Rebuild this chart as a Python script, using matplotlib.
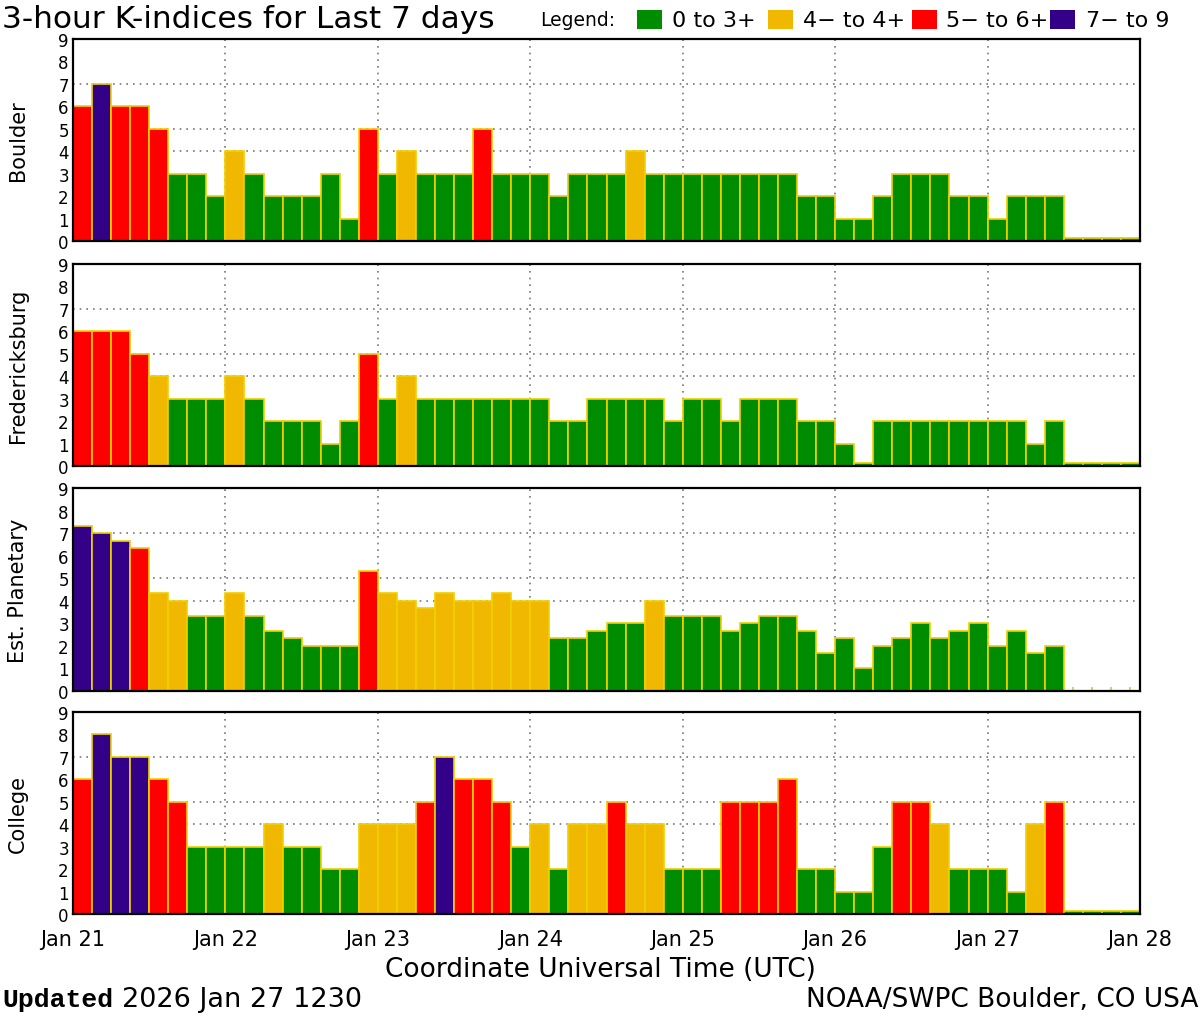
import matplotlib
matplotlib.use("Agg")
import matplotlib.pyplot as plt
from matplotlib.patches import Rectangle

days = ["Jan 21", "Jan 22", "Jan 23", "Jan 24", "Jan 25", "Jan 26", "Jan 27", "Jan 28"]
stations = ["Boulder", "Fredericksburg", "Est. Planetary", "College"]

boulder = [6, 7, 6, 6, 5, 3, 3, 2,
           4, 3, 2, 2, 2, 3, 1, 5,
           3, 4, 3, 3, 3, 5, 3, 3,
           3, 2, 3, 3, 3, 4, 3, 3,
           3, 3, 3, 3, 3, 3, 2, 2,
           1, 1, 2, 3, 3, 3, 2, 2,
           1, 2, 2, 2, 0, 0, 0, 0]
fredericksburg = [6, 6, 6, 5, 4, 3, 3, 3,
                  4, 3, 2, 2, 2, 1, 2, 5,
                  3, 4, 3, 3, 3, 3, 3, 3,
                  3, 2, 2, 3, 3, 3, 3, 2,
                  3, 3, 2, 3, 3, 3, 2, 2,
                  1, 0, 2, 2, 2, 2, 2, 2,
                  2, 2, 1, 2, 0, 0, 0, 0]
planetary = [7.33, 7, 6.67, 6.33, 4.33, 4, 3.33, 3.33,
             4.33, 3.33, 2.67, 2.33, 2, 2, 2, 5.33,
             4.33, 4, 3.67, 4.33, 4, 4, 4.33, 4,
             4, 2.33, 2.33, 2.67, 3, 3, 4, 3.33,
             3.33, 3.33, 2.67, 3, 3.33, 3.33, 2.67, 1.67,
             2.33, 1, 2, 2.33, 3, 2.33, 2.67, 3,
             2, 2.67, 1.67, 2, None, None, None, None]
college = [6, 8, 7, 7, 6, 5, 3, 3,
           3, 3, 4, 3, 3, 2, 2, 4,
           4, 4, 5, 7, 6, 6, 5, 3,
           4, 2, 4, 4, 5, 4, 4, 2,
           2, 2, 5, 5, 5, 6, 2, 2,
           1, 1, 3, 5, 5, 4, 2, 2,
           2, 1, 4, 5, 0, 0, 0, 0]
series = [boulder, fredericksburg, planetary, college]

legend_labels = ["0 to 3+", "4\u2212 to 4+", "5\u2212 to 6+", "7\u2212 to 9"]
GREEN, YELLOW, RED, PURPLE = "#008c00", "#f0b800", "#ff0000", "#330088"
legend_colors = [GREEN, YELLOW, RED, PURPLE]
EDGE = "#f0d000"


def kcolor(v):
    if v < 3.5:
        return GREEN
    if v < 4.5:
        return YELLOW
    if v < 6.5:
        return RED
    return PURPLE


W, H = 1200, 1020
fig = plt.figure(figsize=(12, 10.2), dpi=100)

panels = [(40, 242), (265, 467), (489, 692), (713, 915)]
left_px, right_px = 73, 1140
bw = 1.0 / 8

for i, (name, vals, (t, b)) in enumerate(zip(stations, series, panels)):
    ax = fig.add_axes([left_px / W, 1 - b / H, (right_px - left_px) / W, (b - t) / H])
    xs = [k * bw for k in range(len(vals))]
    for x, v in zip(xs, vals):
        if v is None:
            continue
        h = max(v, 0.12)
        ax.bar(x, h, width=bw, align="edge", color=kcolor(v), edgecolor=EDGE,
               linewidth=1.2, zorder=2)
    ax.set_xlim(0, 7)
    ax.set_ylim(0, 9)
    ax.set_yticks(range(10))
    ax.set_yticklabels([str(k) for k in range(10)], fontsize=12)
    ax.tick_params(axis="y", length=0, pad=3)
    ax.set_xticks(range(8))
    ax.set_xticks([x + bw / 2 for x in xs], minor=True)
    ax.tick_params(axis="x", which="minor", direction="in", length=3, width=1.5,
                   color="#e8d040", bottom=True, top=False, zorder=5)
    ax.tick_params(axis="x", which="major", length=0, pad=11)
    if i == 3:
        ax.set_xticklabels(days, fontsize=15)
    else:
        ax.set_xticklabels([])
    for d in range(1, 7):
        ax.axvline(d, color="#777777", linestyle=(0, (1, 3)), linewidth=1.2, zorder=1)
    for g in (4, 5, 7):
        ax.axhline(g, color="#777777", linestyle=(0, (1, 3)), linewidth=1.2, zorder=1)
    for s in ax.spines.values():
        s.set_linewidth(1.6)
        s.set_color("black")
    fig.text(18 / W, 1 - (t + b) / 2 / H, name, rotation=90, ha="center", va="center",
             fontsize=15)

fig.text(2 / W, 1 - 20 / H, "3-hour K-indices for Last 7 days", ha="left", va="center",
         fontsize=22.5)
fig.text(540 / W, 1 - 21 / H, "Legend:", ha="left", va="center", fontsize=13.5)
sq_x = [637, 768, 912, 1050]
txt_x = [672, 803, 946, 1086]
for c, lab, sx, tx in zip(legend_colors, legend_labels, sq_x, txt_x):
    fig.patches.append(Rectangle((sx / W, 1 - 30 / H), 25 / W, 19 / H, transform=fig.transFigure,
                                 facecolor=c, edgecolor="none"))
    fig.text(tx / W, 1 - 21 / H, lab, ha="left", va="center", fontsize=16)

fig.text(600 / W, 1 - 970 / H, "Coordinate Universal Time (UTC)", ha="center", va="center",
         fontsize=19)
fig.text(2 / W, 1 - 1000 / H, "Updated", ha="left", va="center", fontsize=19,
         family="Liberation Mono", fontweight="bold")
fig.text(122 / W, 1 - 1000 / H, "2026 Jan 27 1230", ha="left", va="center", fontsize=19.5)
fig.text(1198 / W, 1 - 1000 / H, "NOAA/SWPC Boulder, CO USA", ha="right", va="center",
         fontsize=19)

fig.savefig("out.png", dpi=100, facecolor="white")
